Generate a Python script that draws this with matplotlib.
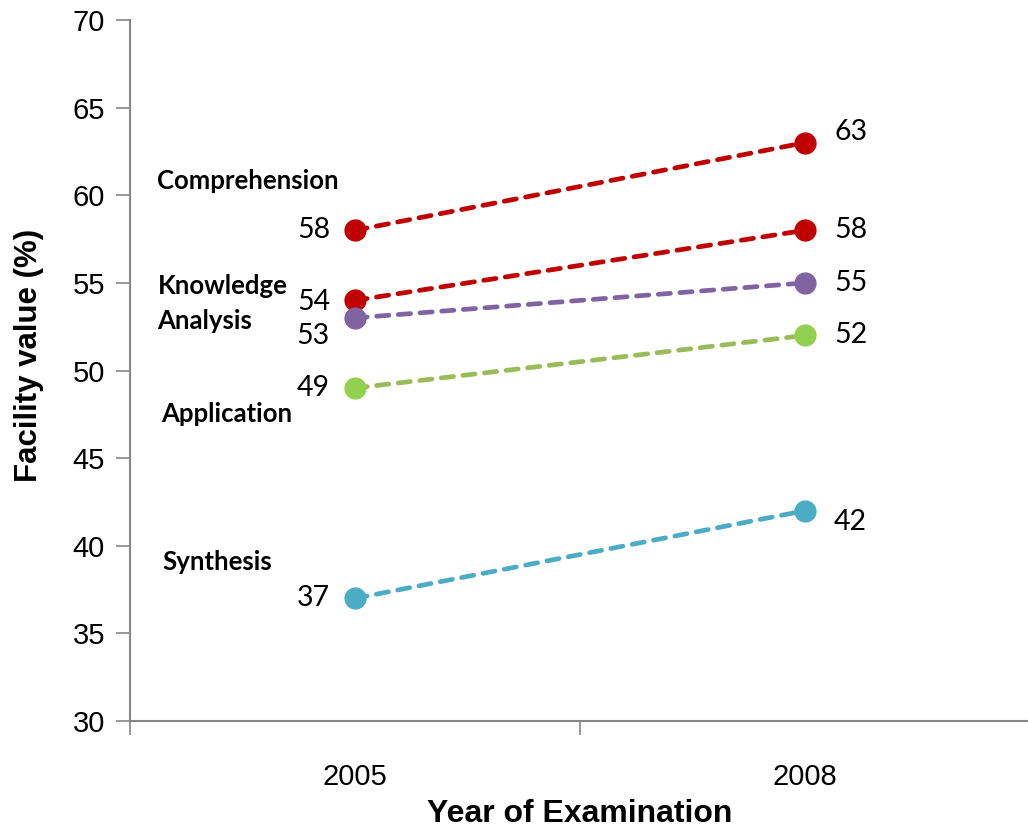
import matplotlib
matplotlib.use("Agg")
import matplotlib.pyplot as plt

years = ["2005", "2008"]
series_names = ["Comprehension", "Knowledge", "Analysis", "Application", "Synthesis"]
values_2005 = [58, 54, 53, 49, 37]
values_2008 = [63, 58, 55, 52, 42]
line_colors = ["#C00000", "#C00000", "#8064A2", "#9BBB59", "#4BACC6"]
marker_colors = ["#C00000", "#C00000", "#8064A2", "#92D050", "#4BACC6"]
# name label placement (data coords) and value label vertical offsets (points)
name_pos = [(0.06, 60.8), (0.063, 54.8), (0.06, 52.8), (0.069, 47.5), (0.071, 39.1)]
left_dy = [0, -1, -13, 0, 0]
right_dy = [8, 0, 0, 0, -8]

fig = plt.figure(figsize=(10.28, 8.34), dpi=100)
ax = fig.add_axes([130/1028, (834-721)/834, 900/1028, 701/834])

xs = [0.5, 1.5]
for i, name in enumerate(series_names):
    ys = [values_2005[i], values_2008[i]]
    ax.plot(xs, ys, color=line_colors[i], lw=3.4, dashes=(2.6, 2.0),
            dash_capstyle="round", zorder=2)
    ax.plot(xs, ys, linestyle="none", marker="o", markersize=15,
            markerfacecolor=marker_colors[i], markeredgecolor=marker_colors[i], zorder=3)
    ax.annotate(str(values_2005[i]), (xs[0], ys[0]), xytext=(-18, left_dy[i]),
                textcoords="offset points", ha="right", va="center",
                fontsize=20.5, family="Lato")
    ax.annotate(str(values_2008[i]), (xs[1], ys[1]), xytext=(21, right_dy[i]),
                textcoords="offset points", ha="left", va="center",
                fontsize=20.5, family="Lato")
    ax.text(name_pos[i][0], name_pos[i][1], name, ha="left", va="center",
            fontsize=18.5, fontweight="bold", family="Lato")

ax.set_xlim(0, 2)
ax.set_ylim(30, 70)
ax.set_yticks(range(30, 71, 5))
ax.set_xticks([0, 1, 2])
ax.set_xticklabels([])
ax.set_xticks(xs, minor=True)
ax.set_xticklabels(years, minor=True)
ax.tick_params(axis="x", which="minor", length=0, pad=30, labelsize=21)
ax.tick_params(axis="x", which="major", length=10, width=1.2, color="#868686", direction="out")
ax.tick_params(axis="y", length=10, width=1.2, color="#868686", direction="out", labelsize=21, pad=8)
for lab in ax.get_xticklabels(minor=True) + ax.get_yticklabels():
    lab.set_family("Liberation Sans")

for s in ["top", "right"]:
    ax.spines[s].set_visible(False)
for s in ["left", "bottom"]:
    ax.spines[s].set_color("#868686")
    ax.spines[s].set_linewidth(1.5)

ax.set_xlabel("Year of Examination", fontsize=23, fontweight="bold", family="Liberation Sans", labelpad=6)
ax.set_ylabel("Facility value (%)", fontsize=22.5, fontweight="bold", family="Liberation Sans")
ax.yaxis.set_label_coords(-0.0956, 0.522)

fig.savefig("out.png", dpi=100)
